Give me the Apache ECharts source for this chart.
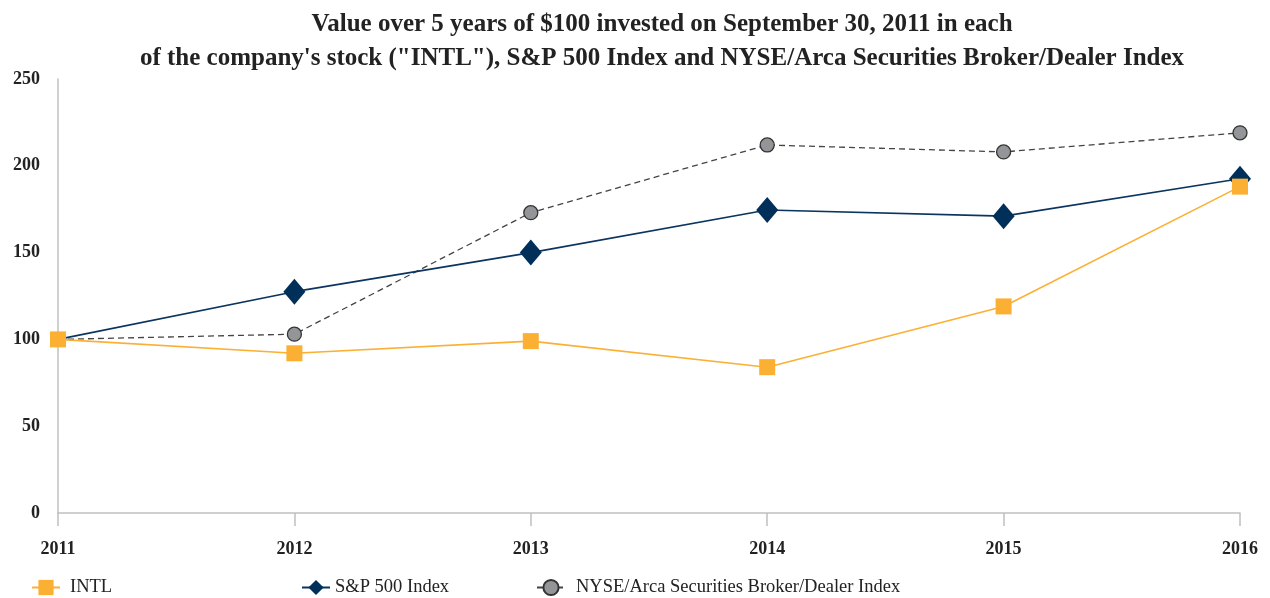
<!DOCTYPE html>
<html>
<head>
<meta charset="utf-8">
<script src="https://cdn.jsdelivr.net/npm/echarts@6/dist/echarts.min.js"></script>
<style>html,body{margin:0;padding:0;background:#fff}#c{width:1270px;height:598px}</style>
</head>
<body>
<div id="c"></div>
<script>
var years = ['2011', '2012', '2013', '2014', '2015', '2016'];
var intl = [100, 92, 99, 84, 119, 188];
var sp500 = [100, 127.5, 150, 174.5, 171, 192.5];
var nyseArca = [100, 103, 173, 212, 208, 219];
var titleText = 'Value over 5 years of $100 invested on September 30, 2011 in each\nof the company\'s stock ("INTL"), S&P 500 Index and NYSE/Arca Securities Broker/Dealer Index';

var serif = '"Liberation Serif", "DejaVu Serif", serif';
var chart = echarts.init(document.getElementById('c'));
function hideFirst(arr) {
  return arr.map(function (v, i) { return i === 0 ? {value: v, symbol: 'none'} : v; });
}
function legendAt(left, name, padLeft) {
  return {
    bottom: -4, left: left, itemWidth: 28, itemHeight: 19, data: [name],
    textStyle: {fontFamily: serif, fontSize: 18.5, color: '#222', padding: [0, 0, 0, padLeft]}
  };
}
chart.setOption({
  animation: false,
  title: {
    text: titleText, left: 657, top: 3, textAlign: 'center',
    textStyle: {fontFamily: serif, fontWeight: 'bold', fontSize: 25, lineHeight: 34, color: '#222'}
  },
  legend: [
    legendAt(26, 'INTL', 5),
    legendAt(296, 'S&P 500 Index', 0),
    legendAt(531, 'NYSE/Arca Securities Broker/Dealer Index', 6)
  ],
  grid: {left: 58, right: 30, top: 79, bottom: 85, containLabel: false},
  xAxis: {
    type: 'category', data: years, boundaryGap: false,
    axisLine: {lineStyle: {color: '#c0c0c0', width: 1.5}},
    axisTick: {show: true, length: 13, lineStyle: {color: '#c0c0c0', width: 1.5}},
    axisLabel: {margin: 27, fontFamily: serif, fontWeight: 'bold', fontSize: 18, color: '#222'},
    splitLine: {show: false}
  },
  yAxis: {
    type: 'value', min: 0, max: 250, interval: 50,
    axisLine: {show: true, lineStyle: {color: '#c0c0c0', width: 1.5}},
    axisTick: {show: false},
    splitLine: {show: false},
    axisLabel: {margin: 18, fontFamily: serif, fontWeight: 'bold', fontSize: 18, color: '#222', padding: [0, 0, 5, 0]}
  },
  series: [
    {
      name: 'NYSE/Arca Securities Broker/Dealer Index', type: 'line', data: hideFirst(nyseArca), z: 2,
      symbol: 'circle', symbolSize: 14,
      itemStyle: {color: '#939598', borderColor: '#333', borderWidth: 1.3},
      lineStyle: {color: '#444', width: 1.3, type: [6, 4]}
    },
    {
      name: 'S&P 500 Index', type: 'line', data: hideFirst(sp500), z: 3,
      symbol: 'diamond', symbolSize: [22, 26],
      itemStyle: {color: '#00305a'},
      lineStyle: {color: '#0b3560', width: 1.6}
    },
    {
      name: 'INTL', type: 'line', data: intl, z: 4,
      symbol: 'rect', symbolSize: 16,
      itemStyle: {color: '#fbb034'},
      lineStyle: {color: '#fbb034', width: 1.6}
    }
  ]
});
</script>
</body>
</html>
